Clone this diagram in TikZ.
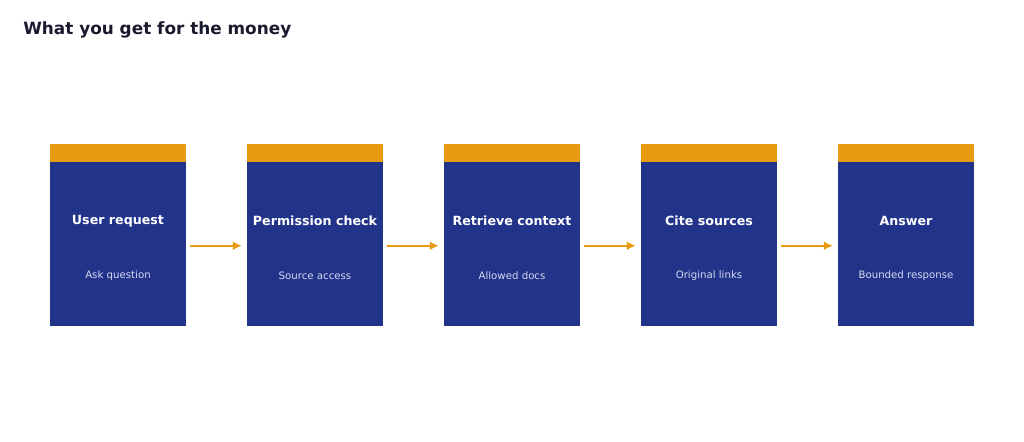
\documentclass[tikz,border=0pt]{standalone}
\usepackage{fontspec}
\setmainfont{DejaVu Sans}
\usetikzlibrary{positioning,arrows.meta}
\definecolor{navy}{HTML}{22338A}
\definecolor{amber}{HTML}{E89A10}
\definecolor{ink}{HTML}{1A1A2E}
\definecolor{pale}{HTML}{D5DAF0}
\tikzset{
  stepbody/.style={fill=navy, minimum width=2.72cm, minimum height=3.28cm, inner sep=0pt, anchor=north west},
  stepcap/.style={fill=amber, minimum width=2.72cm, minimum height=0.36cm, inner sep=0pt, anchor=south west},
  steptitle/.style={text=white, font=\bfseries\fontsize{7.2}{8}\selectfont},
  stepsub/.style={text=pale, font=\fontsize{5.8}{7}\selectfont},
  flow/.style={amber, line width=1.2pt, -{Latex[length=5pt,width=5pt]}}
}
\begin{document}
\begin{tikzpicture}[x=0.02cm, y=-0.02cm]
\useasboundingbox (0,0) rectangle (1024,441);
\node[anchor=west, text=ink, font=\bfseries\fontsize{9.6}{11}\selectfont, inner sep=0pt] (title) at (23,30) {What you get for the money};
\foreach \i/\t/\s in {0/User request/Ask question, 1/Permission check/Source access, 2/Retrieve context/Allowed docs, 3/Cite sources/Original links, 4/Answer/Bounded response} {
  \node[stepbody] (b\i) at ({50+197*\i},162) {};
  \node[stepcap] (c\i) at (b\i.north west) {};
  \node[steptitle] (t\i) at ({50+197*\i+68},221) {\t};
  \node[stepsub] (s\i) at ({50+197*\i+68},276) {\s};
}
\foreach \i [count=\j from 1] in {0,...,3}
  \draw[flow] ([xshift=2pt,yshift=-0.8pt]b\i.east) -- ([xshift=-3pt,yshift=-0.8pt]b\j.west);
\end{tikzpicture}
\end{document}
